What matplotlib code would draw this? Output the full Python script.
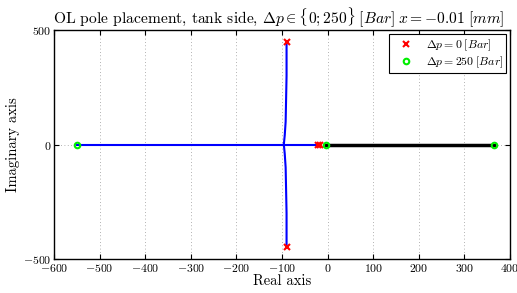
import matplotlib
matplotlib.use("Agg")
import matplotlib.pyplot as plt

plt.rcParams['font.family'] = 'serif'
plt.rcParams['font.serif'] = ['cmr10', 'DejaVu Serif']
plt.rcParams['mathtext.fontset'] = 'cm'
plt.rcParams['axes.formatter.use_mathtext'] = True

# root locus branches
upper_re = [-90, -90, -91, -92, -94, -96]
upper_im = [447, 300, 200, 100, 40, 0]
lower_re = upper_re
lower_im = [-v for v in upper_im]
real_blue_re = [-550, -20]
real_blue_im = [0, 0]
real_black_re = [-3, 365]
real_black_im = [0, 0]

# poles at dp = 0 and dp = 250
poles0_re = [-90, -90, -21, -16]
poles0_im = [447, -447, 0, 0]
poles250_re = [-550, -3, 365]
poles250_im = [0, 0, 0]

fig = plt.figure(figsize=(5.17, 2.93), dpi=100)
ax = fig.add_axes([0.1044, 0.116, 0.8821, 0.7816])

ax.plot(upper_re, upper_im, color='blue', lw=1.5)
ax.plot(lower_re, lower_im, color='blue', lw=1.5)
ax.plot(real_blue_re, real_blue_im, color='blue', lw=1.5)
ax.plot(real_black_re, real_black_im, color='black', lw=2.5)

ax.plot(poles0_re, poles0_im, 'x', color='red', ms=4, mew=1.5, ls='none',
        label=r'$\Delta p = 0\;[Bar]$')
ax.plot(poles250_re, poles250_im, 'o', mfc='none', mec='#00ee00', ms=4, mew=1.5,
        ls='none', label=r'$\Delta p = 250\;[Bar]$')

ax.set_xlim(-600, 400)
ax.set_ylim(-500, 500)
ax.set_xticks(range(-600, 401, 100))
ax.set_yticks([-500, 0, 500])
ax.grid(True, color='#999999', lw=0.6, dashes=(1, 3))
ax.tick_params(direction='in', top=True, right=True, labelsize=8.5, pad=2)
for s in ax.spines.values():
    s.set_linewidth(1.0)

ax.set_xlabel('Real axis', fontsize=10.5, labelpad=0)
ax.set_ylabel('Imaginary axis', fontsize=10.5, labelpad=2)
ax.set_title(r'OL pole placement, tank side, $\Delta p \in \{0;250\}\;[Bar]\;x = -0.01\;[mm]$',
             fontsize=11.2, pad=4, x=0.492)

leg = ax.legend(loc='upper right', fontsize=8.5, fancybox=False, edgecolor='black',
                framealpha=1, borderaxespad=0.3, handletextpad=0.6, borderpad=0.3,
                labelspacing=0.15, handlelength=2.2)
leg.get_frame().set_linewidth(0.8)

fig.savefig('out.png', dpi=100)
